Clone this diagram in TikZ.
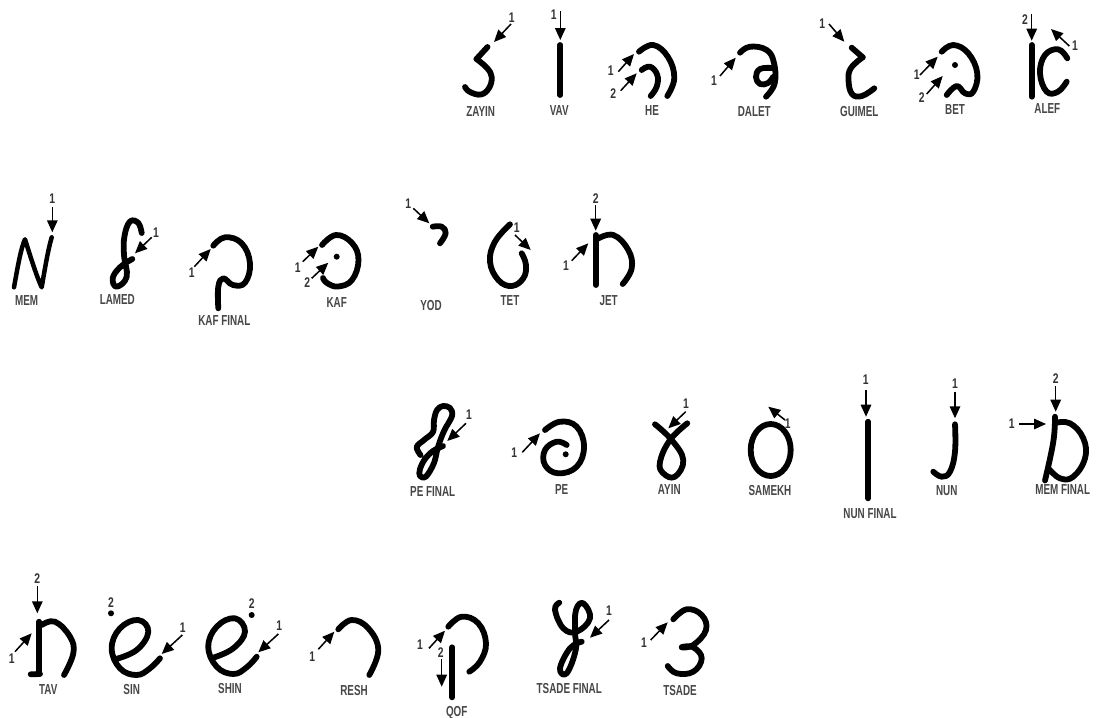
\documentclass[tikz,border=0pt]{standalone}
\usepackage{fontspec}
\setmainfont{Liberation Sans}
\usetikzlibrary{arrows.meta}
\tikzset{
  ink/.style={line width=5.8pt,line cap=round,line join=round,black},
  arrowline/.style={line width=1.5pt,black,-{Triangle[length=12pt,width=10.5pt]}},
  lab/.style={font=\fontsize{14.5}{15}\selectfont\bfseries,text=black!72,xscale=.68,inner sep=0pt},
  num/.style={font=\fontsize{14}{15}\selectfont\bfseries,text=black!80,xscale=.74,inner sep=0pt}
}
\newcommand\Ink[1]{\draw[ink] plot[smooth,tension=.7] coordinates {#1};}
\newcommand\Seg[2]{\draw[ink] (#1) -- (#2);}
\newcommand\Dot[1]{\fill[black] (#1) circle (3pt);}
\newcommand\Arr[5]{\coordinate (#1a) at (#4); \coordinate (#1b) at (#5);
  \draw[arrowline] (#1a) -- (#1b); \node[num] (#1n) at (#2) {#3};}
\newcommand\Lab[3]{\node[lab] (#1) at (#2) {#3};}
\begin{document}
\begin{tikzpicture}[x=1pt,y=-1pt]
\useasboundingbox[fill=white] (0,0) rectangle (1096,718);
% ---------- row 1
\Seg{487.5,47}{476.5,59}
\Ink{(476.5,59)(487,68)(491.7,77)(489,88)(481,94.5)(470,92)(465,87)}
\Arr{zay}{511.7,18}{1}{511,24}{494,42}
\Lab{zayin}{480.7,111.7}{ZAYIN}
\Seg{560.3,45}{560.3,95}
\Arr{vav}{553.7,15}{1}{560.3,11}{560.3,40}
\Lab{vavl}{559.3,110.7}{VAV}
\Ink{(639,51.7)(653.3,45)(668,57)(674.3,78)(667.3,96)}
\Ink{(641.7,70)(650,66.7)(657.3,75)(656.7,86.7)(650.7,96)}
\Arr{hea}{610.7,70.7}{1}{618.3,71.7}{634,54}
\Arr{heb}{613.3,93.3}{2}{620.7,90.7}{636.7,73.3}
\Lab{hel}{652,110.7}{HE}
\Ink{(740,52.7)(750,46.7)(766.7,50)(774,63)(774.7,83.3)(766,96.7)}
\Ink{(772,68)(760,69)(756,77)(760,84)(768,83)(773,77)}
\Arr{dal}{714,81}{1}{720,76}{735.7,57.7}
\Lab{dalet}{754.3,111.7}{DALET}
\Seg{851.7,47.7}{862.7,57.3}
\Ink{(862.7,57.3)(851,68)(848.5,80)(852,94)(862,96)(874.3,88.3)}
\Arr{gui}{822.3,24}{1}{829,24}{844.3,41.7}
\Lab{guimel}{859.3,112}{GUIMEL}
\Ink{(941.7,51.7)(953.3,45)(968.3,53.3)(977.3,73.3)(973.3,91.7)(965,93.3)(956.7,86)(946.7,95)}
\Dot{955,65}
\Arr{beta}{916.7,75}{1}{920,75}{937.7,56.7}
\Arr{betb}{921.7,97.7}{2}{926.7,94}{942.7,76}
\Lab{bet}{955,110}{BET}
\Seg{1031.7,45}{1031.7,96.7}
\Ink{(1067.3,58.3)(1058.3,49.3)(1045,55)(1040,73.3)(1046.7,91.7)(1058,91.7)(1066.7,81.7)}
\Arr{alb}{1025,20}{2}{1031.7,14}{1031.7,40.7}
\Arr{ala}{1075,46}{1}{1069.3,46}{1051,29}
\Lab{alef}{1047.3,108.3}{ALEF}
% ---------- row 2
\draw[ink,line width=4.5pt] (14,287.3) .. controls (18,265) and (21,248) .. (25,239.3) .. controls (30,255) and (36,275) .. (41.7,287.3) .. controls (45,268) and (48,250) .. (51.7,237.3);
\Arr{mem}{52.3,198.3}{1}{52.3,206.7}{52.3,232.3}
\Lab{meml}{26.7,300.7}{MEM}
\Ink{(141.7,233)(138.3,223)(130,221.5)(124.5,236)(124,255)(126.7,276.7)(116.7,286.7)(112.7,278.3)(120,267.3)(132.3,259)}
\Arr{lam}{156,232.7}{1}{151.7,237.3}{135,253.3}
\Lab{lamed}{117.3,299.3}{LAMED}
\Ink{(213.3,245.7)(225,237.3)(241.7,243.3)(250,263.3)(245,282.7)(233,285)(223.3,278.3)(218.3,286.7)(218.3,308.3)}
\Arr{kff}{191.7,272.7}{1}{194.3,266.7}{210.7,249}
\Lab{kaffinal}{224.3,320.7}{KAF FINAL}
\Ink{(322,245)(336,235)(352,243)(358.5,260)(352,280)(338,286.5)(327,283)(323,278)}
\Dot{336.7,256.7}
\Arr{kaa}{297.7,267.3}{1}{302.7,261.7}{318.3,246.7}
\Arr{kab}{307.3,282.3}{2}{311.7,278.3}{328.3,262.7}
\Lab{kaf}{336.7,302.3}{KAF}
\Ink{(432.7,226.7)(441.7,226.7)(445.7,233.3)(440,243.3)}
\Arr{yod}{408.3,204}{1}{413.3,208.3}{429.3,223.3}
\Lab{yodl}{431,305.7}{YOD}
\Ink{(510,224.3)(495,241.7)(490,261.7)(498.3,280)(511.7,286)(523.3,278.3)(526,265)(521.7,253.3)}
\Arr{tet}{516.7,227.7}{1}{515,235}{530.7,250}
\Lab{tetl}{510,301}{TET}
\Seg{595.7,235}{595.7,285}
\Ink{(596.7,239.3)(613.3,235)(628.3,250)(631.7,268.3)(622.7,284)}
\Arr{jeb}{595.7,198.3}{2}{595.7,205}{595.7,230.7}
\Arr{jea}{566,265.7}{1}{571.7,260.7}{588.3,243.3}
\Lab{jet}{608.7,301}{JET}
% ---------- row 3
\draw[ink] plot[smooth,tension=.6] coordinates {(420.5,455)(416.7,447)(424,440)(433,432)(434,420)(437,410)(443,406)(450,408)(452,416)(444,431)(438,447)(434,463)(426,476.5)(420,476)(420,469)(425,459)(433,451)(443,446)};
\Arr{pef}{469,414.3}{1}{466,423.3}{447.3,441}
\Lab{pefinal}{432.7,491.7}{PE FINAL}
\Ink{(545,430)(560,421.7)(576.7,426.7)(584,446.7)(576.7,466.7)(558.3,473.3)(545,465)(545,450)(556.7,441.7)(566.7,445)}
\Dot{565.7,454.3}
\Arr{pea}{514.3,452.3}{1}{522.3,452.3}{540,433.3}
\Lab{pel}{561.7,490}{PE}
\Ink{(655,424.3)(671.7,440)(683.3,460)(675,476.7)(663.3,473.3)(660,461.7)(670,440)(687.3,423.3)}
\Arr{ayi}{686,403.3}{1}{685.7,411.7}{668.3,428.3}
\Lab{ayin}{669.3,490}{AYIN}
\draw[ink] (770.7,450) ellipse (20pt and 26pt);
\Arr{sam}{787.7,424}{1}{785,420}{768.3,406.7}
\Lab{samekh}{770,491}{SAMEKH}
\Seg{868.3,421.7}{868.3,498.3}
\Arr{nuf}{865.7,379.3}{1}{866,390}{866,416.7}
\Lab{nunfinal}{870,514}{NUN FINAL}
\Ink{(955,424.3)(955,451.7)(950,471.7)(941.7,476.7)(933.3,471.7)}
\Arr{nun}{955,383.3}{1}{955,391.7}{955,418.3}
\Lab{nunl}{946.7,491}{NUN}
\Ink{(1055,416.7)(1053.3,441.7)(1045,480.5)}
\Ink{(1055,423)(1070,423.3)(1083.3,438.3)(1085,458.3)(1073.3,476.7)(1060,478.3)(1048.3,468.3)}
\Arr{mfb}{1055.7,379}{2}{1055.7,385.7}{1055.7,411.7}
\Arr{mfa}{1011.7,423.3}{1}{1019.3,424}{1046,424}
\Lab{memfinal}{1062.7,490}{MEM FINAL}
% ---------- row 4
\Seg{39.3,621.7}{39.3,671.7}
\Seg{30.7,674.3}{40,674}
\Ink{(41.7,625)(55,621.7)(70,636.7)(73.3,653.3)(64,675)}
\Arr{tab}{37.3,578.3}{2}{37.3,586}{37.3,613.3}
\Arr{taa}{11.7,659}{1}{15,651.7}{31.7,633.3}
\Lab{tav}{48.3,690}{TAV}
\Ink{(115,659.3)(136.7,650)(148.3,631.7)(138.3,620)(120,628.3)(111.7,648.3)(120,668.3)(136.7,675)(150,668.3)(160,658.3)}
\Dot{111,613.3}
\node[num] (sinb) at (111,602.7) {2};
\Arr{sin}{182.7,627.3}{1}{182.3,635}{161.7,654}
\Lab{sinl}{131.7,689.3}{SIN}
\Ink{(213.3,657.7)(233.3,648.3)(245,631.7)(235,618.3)(216.7,626.7)(208.3,646.7)(216.7,666.7)(233.3,674)(246.7,667.3)(256.7,656.7)}
\Dot{251.7,615}
\node[num] (shib) at (251.7,604) {2};
\Arr{shi}{279.3,626}{1}{278.3,634}{258.3,652.3}
\Lab{shin}{230,688.3}{SHIN}
\Ink{(338.3,629.3)(351.7,620)(368.3,628.3)(378.3,650)(369.3,675)}
\Arr{res}{312.3,656.7}{1}{318.3,649.3}{334.3,631.7}
\Lab{resh}{354,691}{RESH}
\Ink{(448.3,626.7)(461.7,616.7)(478.3,623.3)(486,643.3)(480,661.7)(469.3,671.7)}
\Seg{452.3,647.3}{452.3,697.3}
\Arr{qoa}{420,645}{1}{429,648.3}{445,630.7}
\Arr{qob}{440.7,652.7}{2}{441.7,659}{441.7,686.7}
\Lab{qof}{456.7,712.7}{QOF}
\Ink{(559.3,602.7)(555,610)(563.3,628.3)(576.7,631.7)(590,618.3)(583.3,603.3)(576,610)(575,631.7)(575.7,650)(566.7,673.3)(560,668.3)(570,648.3)(581.7,641.7)}
\Arr{tsf}{609,610.7}{1}{609,620}{590,637.7}
\Lab{tsadefinal}{569.3,689}{TSADE FINAL}
\Ink{(673.3,619.3)(686.7,609.3)(701.7,615)(706,630)(693.3,645)(681.7,647.3)}
\Ink{(682,647)(693.3,647.3)(701.7,658.3)(693.3,671.7)(676.7,673.3)(667.7,666)}
\Arr{tsa}{644,642.3}{1}{650.7,640}{667.7,622.3}
\Lab{tsade}{680,690.7}{TSADE}
\end{tikzpicture}
\end{document}
